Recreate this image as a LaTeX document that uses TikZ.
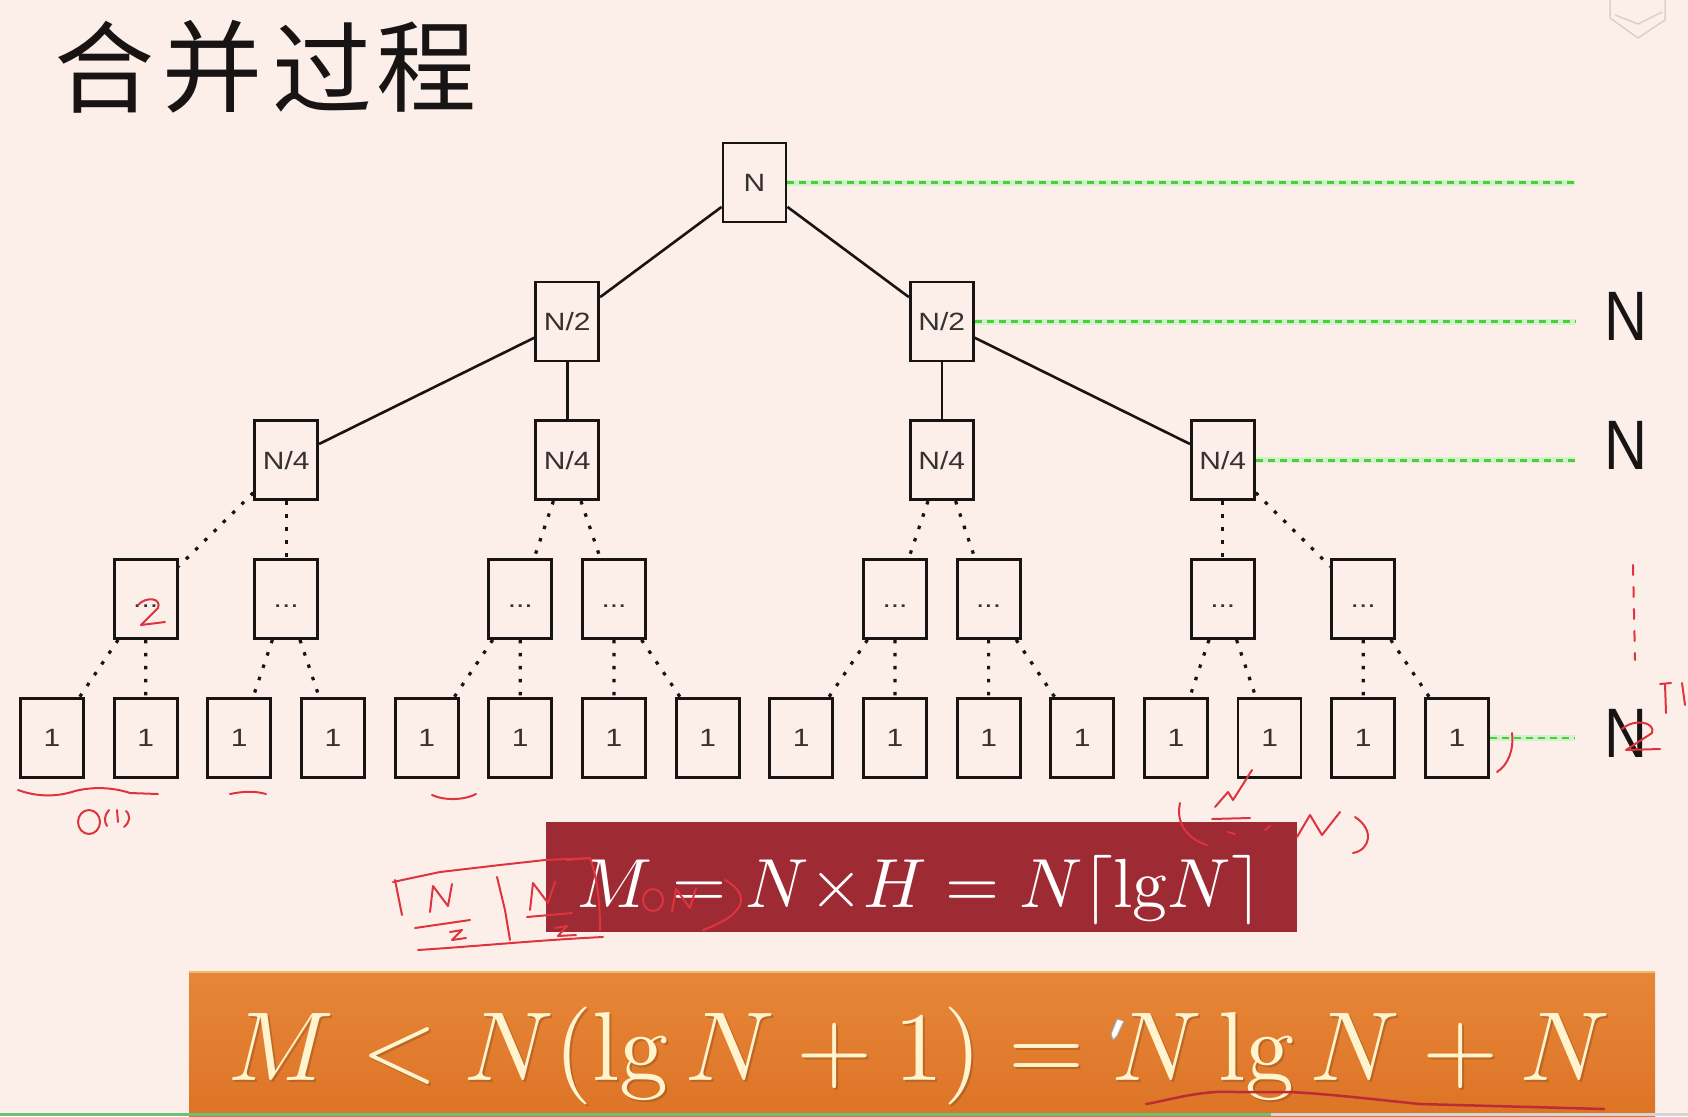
\documentclass[tikz,border=0pt]{standalone}
\usepackage{fontspec}
\newfontfamily\cjk{Noto Sans CJK SC}
\newfontfamily\boxfont[FakeStretch=1.2]{Liberation Sans}
\newfontfamily\labfont[FakeStretch=0.85]{Liberation Sans}
\definecolor{bg}{RGB}{252,239,234}
\definecolor{ink}{RGB}{25,20,20}
\definecolor{boxtxt}{RGB}{55,50,50}
\definecolor{lvlgreen}{RGB}{75,205,55}
\definecolor{redbox}{RGB}{158,42,52}
\definecolor{orangetop}{RGB}{231,134,56}
\definecolor{orangebot}{RGB}{221,116,38}
\definecolor{orangeedge}{RGB}{242,185,110}
\definecolor{cream}{RGB}{255,244,205}
\definecolor{pen}{RGB}{222,52,62}
\definecolor{barg}{RGB}{110,190,120}
\definecolor{barr}{RGB}{215,212,212}
\definecolor{logo}{RGB}{218,208,203}
\begin{document}
\begin{tikzpicture}[x=1pt,y=-1pt,
  nbox/.style={draw=ink, line width=2.8pt, fill=bg, minimum width=63pt, minimum height=79pt, inner sep=0pt, font=\boxfont\fontsize{25}{25}\selectfont, text=boxtxt},
  solidlink/.style={draw=ink, line width=2.6pt},
  dotlink/.style={draw=ink, line width=3.2pt, dash pattern=on 3.5pt off 9.5pt},
  lvl/.style={draw=lvlgreen, line width=2.6pt, dash pattern=on 7pt off 5pt},
  glow/.style={draw=lvlgreen!25, line width=6pt},
  lab/.style={font=\labfont\fontsize{70}{70}\selectfont, text=ink, inner sep=0pt},
  pen/.style={draw=pen, line width=2pt, line cap=round, line join=round},
  ttl/.style={font=\cjk\fontsize{100}{100}\selectfont, text=ink, inner sep=0pt},
]
\fill[bg] (0,0) rectangle (1688,1116);
\useasboundingbox (0,0) rectangle (1688,1116);

% logo top right
\draw[logo, line width=1.5pt, line join=round] (1610,0) -- (1610,18) -- (1638,38) -- (1665,20) -- (1665,0);
\draw[logo, line width=1.5pt, line join=round] (1615,15) -- (1638,24) -- (1662,12);

% title
\node[ttl] (t1) at (104,67) {合};
\node[ttl] (t2) at (212,67) {并};
\node[ttl] (t3) at (322,67) {过};
\node[ttl] (t4) at (426,67) {程};

% level line ends
\coordinate (g0) at (1575,182.5);
\coordinate (g1) at (1575,321.5);
\coordinate (g2) at (1575,460.2);
\coordinate (g3) at (1575,738);

% tree nodes
\node[nbox] (root) at (754.5,182.5) {N};
\node[nbox] (h0) at (567.2,321.5) {N/2};
\node[nbox] (h1) at (941.8,321.5) {N/2};
\node[nbox] (f0) at (286.2,460.2) {N/4};
\node[nbox] (f1) at (567.2,460.2) {N/4};
\node[nbox] (f2) at (941.8,460.2) {N/4};
\node[nbox] (f3) at (1222.8,460.2) {N/4};
\foreach \n/\x in {d0/145.7,d1/286.2,d2/520.3,d3/614,d4/895,d5/988.6,d6/1222.8,d7/1363.2}
  \node[nbox] (\n) at (\x,599) {\vphantom{N}...};
\foreach \i in {0,...,15}
  \node[nbox] (l\i) at ({52+93.66*\i},738) {1};

% connectors
\foreach \a/\b in {root/h0,root/h1,h0/f0,h0/f1,h1/f2,h1/f3}
  \draw[solidlink] (\a) -- (\b);
\foreach \a/\b in {f0/d0,f0/d1,f1/d2,f1/d3,f2/d4,f2/d5,f3/d6,f3/d7,
  d0/l0,d0/l1,d1/l2,d1/l3,d2/l4,d2/l5,d3/l6,d3/l7,d4/l8,d4/l9,d5/l10,d5/l11,d6/l12,d6/l13,d7/l14,d7/l15}
  \draw[dotlink] (\a) -- (\b);

% green level lines
\foreach \a/\b in {root/g0,h1/g1,f3/g2,l15/g3} {
  \draw[glow] (\a.east) -- (\b);
  \draw[lvl] (\a.east) -- (\b);
}

% right labels
\node[lab] (n1) at (1626,316) {N};
\node[lab] (n2) at (1626,445) {N};
\node[lab] (n3) at (1626,733) {N};

% red box
\node[fill=redbox, minimum width=751pt, minimum height=110pt, inner sep=0pt] (rbox) at (921.5,877) {};
\node[anchor=base, inner sep=0pt, text=white] (rtext) at (920,907)
  {\resizebox{684pt}{!}{$M = N{\times}H = N\lceil \mathrm{lg}N\rceil$}};

% orange box
\node[top color=orangetop, bottom color=orangebot, minimum width=1466pt, minimum height=144pt, inner sep=0pt] (obox) at (922,1044) {};
\draw[orangeedge, line width=2pt] (obox.north west) -- (obox.north east);
\node[anchor=base, inner sep=0pt, text=orangebot!55!black, opacity=0.35] (oshadow) at (921,1082)
  {\resizebox{1380pt}{!}{$M < N(\lg N + 1) = N\lg N + N$}};
\node[anchor=base, inner sep=0pt, text=cream] (otext) at (919,1080)
  {\resizebox{1380pt}{!}{$M < N(\lg N + 1) = N\lg N + N$}};

% progress bar
\fill[barg] (0,1113) rectangle (1271,1116);
\fill[barr] (1271,1113) rectangle (1688,1116);

% pencil cursor
\draw[gray!70, fill=white, line width=1pt, line join=round] (1117,1019) -- (1124,1021) -- (1117,1036) -- (1113,1040) -- (1111,1034) -- cycle;

% ---- red handwritten annotations ----
\draw[pen] (138,605) .. controls (146,596) and (162,598) .. (158,608) -- (141,625) -- (165,622);
\draw[pen] (18,790) .. controls (40,798) and (60,796) .. (75,791) .. controls (95,786) and (115,788) .. (130,793) -- (158,794);
\draw[pen] (89,822) ellipse [x radius=11, y radius=12];
\draw[pen] (109,810) .. controls (104,815) and (104,822) .. (107,826);
\draw[pen] (117,810) -- (118,822);
\draw[pen] (126,811) .. controls (131,816) and (130,822) .. (124,827);
\draw[pen] (230,794) .. controls (245,791) and (255,791) .. (266,794);
\draw[pen] (432,795) .. controls (445,801) and (465,800) .. (476,794);
\draw[pen] (393,882) -- (440,872) -- (500,865) -- (545,860) -- (590,858);
\draw[pen] (395,880) -- (402,915);
\draw[pen] (430,912) -- (433,886) -- (448,906) -- (452,884);
\draw[pen] (415,928) -- (470,920);
\draw[pen] (450,932) -- (462,930) -- (452,940) -- (466,938);
\draw[pen] (418,950) .. controls (480,946) and (540,940) .. (603,937);
\draw[pen] (497,877) -- (505,910) -- (510,940);
\draw[pen] (530,910) -- (533,883) -- (548,903) -- (555,882);
\draw[pen] (527,917) -- (572,913);
\draw[pen] (555,928) -- (567,926) -- (558,936) -- (576,935);
\draw[pen] (567,860) -- (590,858) .. controls (598,880) and (600,905) .. (600,930);
\draw[pen] (653,900) ellipse [x radius=10, y radius=11];
\draw[pen] (672,912) -- (676,889) -- (690,908) -- (696,888);
\draw[pen] (725,880) .. controls (752,895) and (745,915) .. (703,930);
\draw[pen] (1215,807) -- (1228,792) -- (1233,800) -- (1252,770);
\draw[pen] (1180,803) .. controls (1175,825) and (1190,840) .. (1207,845);
\draw[pen] (1212,819) -- (1250,818);
\draw[pen] (1228,832) -- (1235,834);
\draw[pen] (1265,830) -- (1270,826);
\draw[pen] (1297,837) -- (1310,815) -- (1322,835) -- (1340,812);
\draw[pen] (1355,817) .. controls (1375,830) and (1370,850) .. (1353,853);
\draw[pen] (1512,733) .. controls (1514,750) and (1508,765) .. (1497,772);
\draw[pen, dash pattern=on 10pt off 12pt] (1633,565) -- (1635,660);
\draw[pen] (1622,729) .. controls (1634,718) and (1656,722) .. (1652,733) -- (1626,750) -- (1660,749);
\draw[pen] (1660,684) -- (1671,683);
\draw[pen] (1665,684) -- (1666,713);
\draw[pen] (1682,683) -- (1685,705);
\draw[draw=pen!85!black, line width=2.5pt, line cap=round, line join=round] (1146,1104) .. controls (1170,1100) and (1200,1090) .. (1235,1092) -- (1290,1092) .. controls (1330,1094) and (1380,1100) .. (1420,1104) -- (1604,1109);
\end{tikzpicture}
\end{document}
